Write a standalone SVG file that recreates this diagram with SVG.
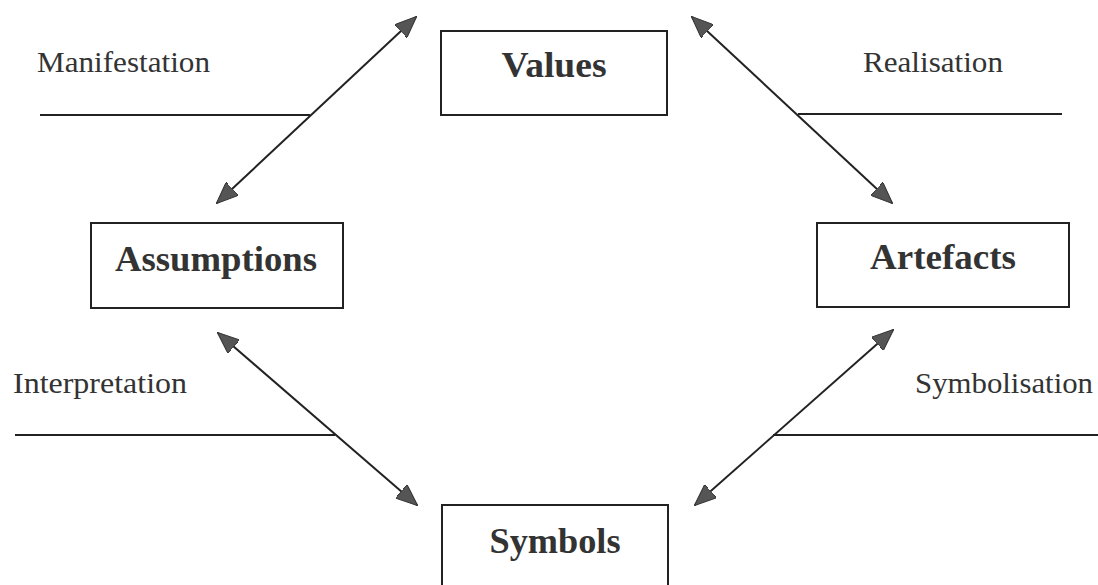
<svg xmlns="http://www.w3.org/2000/svg" width="1098" height="585" viewBox="0 0 1098 585">
  <style>
    .box { fill: #fff; stroke: #222; stroke-width: 2; }
    .node { font-family: "Liberation Serif", "Times New Roman", serif; font-weight: bold; font-size: 36px; fill: #333; text-anchor: middle; }
    .lbl { font-family: "Liberation Serif", "Times New Roman", serif; font-size: 29px; fill: #333; }
    .rule { stroke: #222; stroke-width: 2; }
    .conn { stroke: #222; stroke-width: 2; fill: none; marker-start: url(#ah); marker-end: url(#ah); }
  </style>
  <defs>
    <marker id="ah" viewBox="0 0 22 18" refX="21" refY="9" markerWidth="22" markerHeight="18" markerUnits="userSpaceOnUse" orient="auto-start-reverse">
      <path d="M0,0 L22,9 L0,18 z" fill="#555" stroke="#333" stroke-width="1"/>
    </marker>
  </defs>
  <rect width="1098" height="585" fill="#fff"/>

  <g id="labels">
    <text class="lbl" x="37" y="72" textLength="173" lengthAdjust="spacingAndGlyphs">Manifestation</text>
    <line class="rule" x1="40" y1="115" x2="310" y2="115"/>
    <text class="lbl" x="863" y="72" textLength="140" lengthAdjust="spacingAndGlyphs">Realisation</text>
    <line class="rule" x1="798" y1="114" x2="1062" y2="114"/>
    <text class="lbl" x="13" y="393" textLength="174" lengthAdjust="spacingAndGlyphs">Interpretation</text>
    <line class="rule" x1="15" y1="435" x2="335" y2="435"/>
    <text class="lbl" x="915" y="393" textLength="178" lengthAdjust="spacingAndGlyphs">Symbolisation</text>
    <line class="rule" x1="773" y1="435" x2="1098" y2="435"/>
  </g>

  <g id="connectors">
    <line class="conn" x1="217" y1="203" x2="416" y2="17"/>
    <line class="conn" x1="692" y1="17" x2="892" y2="203"/>
    <line class="conn" x1="218" y1="333" x2="417" y2="505"/>
    <line class="conn" x1="893" y1="330" x2="695" y2="505"/>
  </g>

  <g id="values">
    <rect class="box" x="441" y="31" width="226" height="84"/>
    <text class="node" x="554" y="77" textLength="105" lengthAdjust="spacingAndGlyphs">Values</text>
  </g>
  <g id="assumptions">
    <rect class="box" x="91" y="223" width="252" height="85"/>
    <text class="node" x="216" y="271" textLength="202" lengthAdjust="spacingAndGlyphs">Assumptions</text>
  </g>
  <g id="artefacts">
    <rect class="box" x="817" y="223" width="252" height="84"/>
    <text class="node" x="943" y="269" textLength="146" lengthAdjust="spacingAndGlyphs">Artefacts</text>
  </g>
  <g id="symbols">
    <rect class="box" x="442" y="505" width="226" height="100"/>
    <text class="node" x="555" y="553" textLength="131" lengthAdjust="spacingAndGlyphs">Symbols</text>
  </g>
</svg>
